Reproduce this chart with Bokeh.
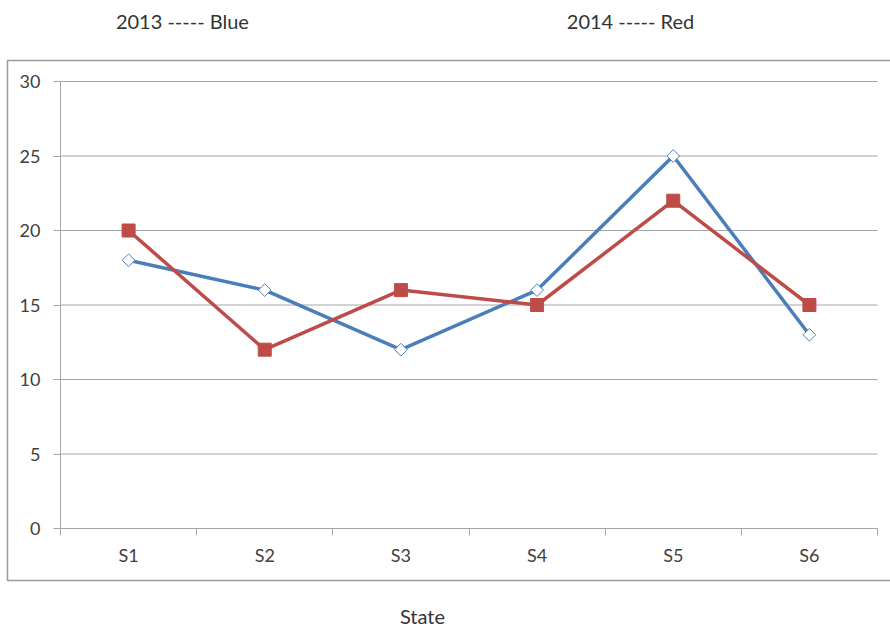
import math
from bokeh.plotting import figure
from bokeh.models import Range1d, FixedTicker, Label, BoxAnnotation
from bokeh.embed import file_html
from bokeh.resources import INLINE

states = ["S1", "S2", "S3", "S4", "S5", "S6"]
values_2013 = [18, 16, 12, 16, 25, 13]
values_2014 = [20, 12, 16, 15, 22, 15]
y_ticks = [0, 5, 10, 15, 20, 25, 30]
legend_texts = ["2013  -----  Blue", "2014 ----- Red"]
x_title = "State"

xpos = [i + 0.5 for i in range(len(states))]

FONT = "Lato"
TXT = "#404040"
GRID = "#a6a6a6"

W, H = 890, 629
FL, FR, FT, FB = 60, 877, 81, 528      # data area in pixels
BL, BR, BT, BB = 7, 896, 60, 580       # outer chart box in pixels

sx = len(states) / (FR - FL)
sy = 30 / (FB - FT)
def dx(px):
    return (px - FL) * sx
def dy(py):
    return (FB - py) * sy

# the frame covers the whole canvas; axes are fixed inside it
p = figure(width=W, height=H, output_backend="svg", toolbar_location=None,
           x_range=Range1d(dx(0), dx(W)), y_range=Range1d(dy(H), dy(0)),
           min_border_left=0, min_border_right=0, min_border_top=0,
           min_border_bottom=0)
p.outline_line_color = None
p.background_fill_color = "white"
p.border_fill_color = "white"
p.xgrid.grid_line_color = None
p.ygrid.grid_line_color = None

# outer chart box
p.add_layout(BoxAnnotation(left=dx(BL), right=dx(BR), top=dy(BT), bottom=dy(BB),
                           fill_color=None, fill_alpha=0,
                           line_color="#9a9a9a", line_alpha=1.0, line_width=1.5,
                           level="underlay"))

# horizontal gridlines across the data area (the one at 0 is the x axis line)
p.segment(x0=[0] * len(y_ticks), x1=[len(states)] * len(y_ticks),
          y0=y_ticks, y1=y_ticks, line_color=GRID, line_width=1)

# x axis: labels at centres, tick marks at category boundaries
xa = p.xaxis[0]
xa.fixed_location = 0
xa.bounds = (0, len(states) + 1e-6)
xa.ticker = FixedTicker(ticks=xpos, minor_ticks=list(range(len(states) + 1)))
xa.major_label_overrides = {x: s for x, s in zip(xpos, states)}
xa.major_tick_line_color = None
xa.minor_tick_in = 0
xa.minor_tick_out = 7
xa.minor_tick_line_color = GRID
xa.axis_line_color = None
xa.major_label_standoff = 8
xa.major_label_text_font = FONT
xa.major_label_text_font_size = "18px"
xa.major_label_text_color = TXT

ya = p.yaxis[0]
ya.fixed_location = 0
ya.bounds = (0, 30)
ya.ticker = FixedTicker(ticks=y_ticks)
ya.major_tick_in = 0
ya.major_tick_out = 7
ya.major_tick_line_color = GRID
ya.minor_tick_line_color = None
ya.axis_line_color = GRID
ya.major_label_standoff = 13
ya.major_label_text_font = FONT
ya.major_label_text_font_size = "18px"
ya.major_label_text_color = TXT

blue = "#4a7ebb"
red = "#be4b48"
p.line(xpos, values_2013, line_color=blue, line_width=3.5)
p.scatter(xpos, values_2013, marker="square", angle=math.pi / 4, size=9,
          fill_color="white", line_color=blue, line_width=1)
p.line(xpos, values_2014, line_color=red, line_width=3.5)
p.scatter(xpos, values_2014, marker="square", size=13, fill_color=red,
          line_color=red)

# texts above and below the chart box
for txt, px, py in [(legend_texts[0], 187, 20), (legend_texts[1], 630, 20),
                    (x_title, 422, 615)]:
    p.add_layout(Label(x=dx(px), y=dy(py), text=txt, text_font=FONT,
                       text_font_size="20px", text_color="#333333",
                       text_align="center", text_baseline="middle"))

open("out.html", "w").write(file_html(p, INLINE))
